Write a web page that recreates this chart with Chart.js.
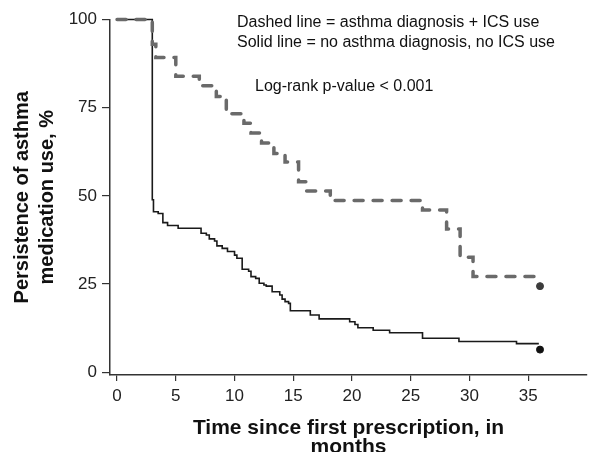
<!DOCTYPE html>
<html>
<head>
<meta charset="utf-8">
<script src="https://cdn.jsdelivr.net/npm/chart.js@4"></script>
<style>
  html, body { margin: 0; padding: 0; background: #fff; overflow: hidden; }
  #wrap { width: 592px; height: 452px; position: relative; }
</style>
</head>
<body>
<div id="wrap"><canvas id="kmChart"></canvas></div>
<script>
// Kaplan-Meier curves (months, % still using)
const dashedTime = [0, 3, 3.3, 5.0, 7.0, 8.45, 9.3, 10.8, 11.4, 12.3, 13.35, 14.3, 15.45, 16.1, 18.15, 26.0, 28.05, 29.2, 30.3, 35.8];
const dashedPct  = [100, 93, 89.2, 83.9, 81.2, 78.2, 73.3, 70.6, 67.8, 65, 62, 59.6, 54, 51.4, 48.7, 46, 40.6, 32.6, 27.1, 27.1];

const solidTime = [0, 3, 3.1, 3.5, 3.9, 4.3, 5.2, 7.15, 7.6, 7.85, 8.3, 8.5, 8.95, 9.4, 10.0, 10.2, 10.65, 11.2, 11.4, 11.8, 12.1, 12.5, 12.7, 13.2, 13.85, 14.05, 14.3, 14.6, 14.75, 16.45, 17.2, 19.8, 20.25, 20.5, 21.8, 23.2, 26.0, 29.1, 34.0, 35.9];
const solidPct  = [100, 48.9, 45.5, 45.0, 42.4, 41.6, 40.8, 39.4, 38.9, 37.8, 37.2, 35.8, 35.1, 34.2, 33.2, 32.3, 29.2, 28.6, 27.1, 26.6, 25.2, 24.7, 24.4, 22.8, 21.9, 20.7, 20.0, 19.5, 17.4, 16.2, 15.1, 14.3, 13.5, 12.6, 11.9, 11.2, 9.6, 8.7, 8.1, 8.1];

// end-of-follow-up markers
const endTime = [36];
const dashedEnd = [24.4];
const solidEnd = [6.4];

const xTicks = [0, 5, 10, 15, 20, 25, 30, 35];
const yTicks = [0, 25, 50, 75, 100];

const noteLines = [
  "Dashed line = asthma diagnosis + ICS use",
  "Solid line = no asthma diagnosis, no ICS use",
];
const pValueNote = "Log-rank p-value < 0.001";

const FONT = '"Liberation Sans", Arial, Helvetica, sans-serif';

function toPoints(xs, ys) {
  return xs.map((x, i) => ({ x: x, y: ys[i] }));
}

// text written inside the plot
const notesPlugin = {
  id: "notes",
  afterDraw(chart) {
    const ctx = chart.ctx;
    ctx.save();
    ctx.fillStyle = "#111";
    ctx.font = "16px " + FONT;
    ctx.textBaseline = "middle";
    ctx.textAlign = "left";
    ctx.fillText(noteLines[0], 237, 23);
    ctx.fillText(noteLines[1], 237, 43);
    ctx.fillText(pValueNote, 255, 87);
    ctx.restore();
  },
};

const ctx = document.getElementById("kmChart").getContext("2d");
new Chart(ctx, {
  type: "line",
  data: {
    datasets: [
      {
        label: "asthma diagnosis + ICS use",
        data: toPoints(dashedTime, dashedPct),
        stepped: true,
        borderColor: "#6a6a6a",
        borderWidth: 3.5,
        borderDash: [9, 10],
        borderCapStyle: "round",
        pointRadius: 0,
        fill: false,
        clip: false,
      },
      {
        label: "no asthma diagnosis, no ICS use",
        data: toPoints(solidTime, solidPct),
        stepped: true,
        borderColor: "#1a1a1a",
        borderWidth: 1.6,
        pointRadius: 0,
        fill: false,
        clip: false,
      },
      {
        label: "end dashed",
        data: toPoints(endTime, dashedEnd),
        showLine: false,
        pointRadius: 3.5,
        pointBackgroundColor: "#3c3c3c",
        pointBorderColor: "#3c3c3c",
        clip: false,
      },
      {
        label: "end solid",
        data: toPoints(endTime, solidEnd),
        showLine: false,
        pointRadius: 3.5,
        pointBackgroundColor: "#111",
        pointBorderColor: "#111",
        clip: false,
      },
    ],
  },
  options: {
    responsive: true,
    maintainAspectRatio: false,
    devicePixelRatio: 1,
    animation: false,
    layout: { padding: { top: 19.5, right: 2, left: 0, bottom: 0 } },
    plugins: {
      legend: { display: false },
      tooltip: { enabled: false },
    },
    scales: {
      x: {
        type: "linear",
        min: -0.6,
        max: 40,
        afterBuildTicks: (scale) => {
          scale.ticks = xTicks.map((v) => ({ value: v }));
        },
        afterFit: (scale) => {
          scale.height = 77;
        },
        ticks: {
          color: "#222",
          font: { family: FONT, size: 17 },
          padding: 5,
          maxRotation: 0,
        },
        grid: {
          drawOnChartArea: false,
          drawTicks: true,
          tickLength: 6,
          color: "#333",
          lineWidth: 1.2,
        },
        border: { display: true, color: "#333", width: 1.5 },
        title: {
          display: true,
          text: ["Time since first prescription, in", "months"],
          color: "#111",
          font: { family: FONT, size: 21, weight: "bold", lineHeight: 0.9 },
          padding: { top: 0, bottom: -4.5 },
        },
      },
      y: {
        min: -0.8,
        max: 100,
        afterBuildTicks: (scale) => {
          scale.ticks = yTicks.map((v) => ({ value: v }));
        },
        afterFit: (scale) => {
          scale.width = 110;
        },
        ticks: {
          color: "#222",
          font: { family: FONT, size: 17 },
          padding: 5,
        },
        grid: {
          drawOnChartArea: false,
          drawTicks: true,
          tickLength: 8,
          color: "#333",
          lineWidth: 1.2,
        },
        border: { display: true, color: "#333", width: 1.5 },
        title: {
          display: true,
          text: ["Persistence of asthma", "medication use, %"],
          color: "#111",
          font: { family: FONT, size: 20, weight: "bold", lineHeight: 1.25 },
          padding: { top: 10, bottom: 0 },
        },
      },
    },
  },
  plugins: [notesPlugin],
});
</script>
</body>
</html>
